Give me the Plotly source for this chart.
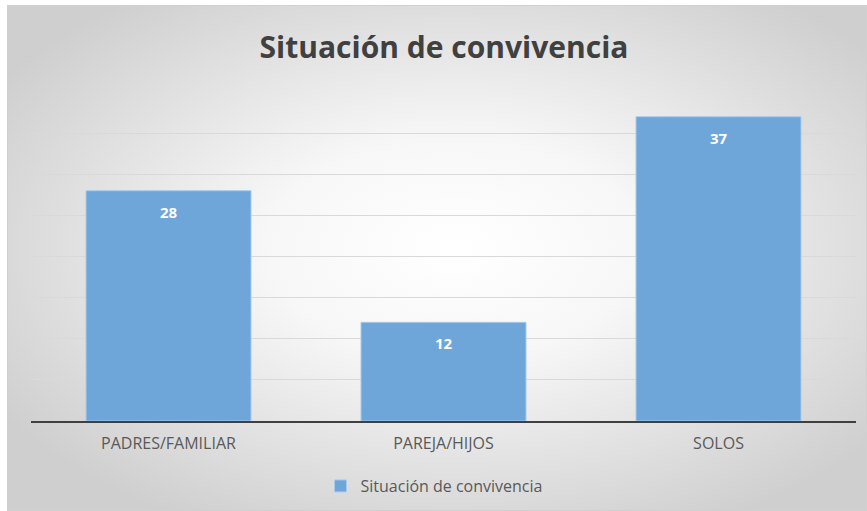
import base64
import plotly.graph_objects as go

categories = ["PADRES/FAMILIAR", "PAREJA/HIJOS", "SOLOS"]
values = [28, 12, 37]
series_name = "Situación de convivencia"
title_text = "Situación de convivencia"

W, H = 867, 511
L, R, T, B = 31, 11, 92, 90
pw, ph = W - L - R, H - T - B

svg = (
    "<svg xmlns='http://www.w3.org/2000/svg' width='860' height='506' viewBox='0 0 860 506' preserveAspectRatio='none'>"
    "<defs><radialGradient id='g' cx='52%' cy='48%' r='62%'>"
    "<stop offset='0' stop-color='#ffffff'/><stop offset='0.35' stop-color='#f7f7f7'/>"
    "<stop offset='1' stop-color='#cfcfcf'/></radialGradient></defs>"
    "<rect x='0' y='0' width='860' height='506' fill='url(#g)'/>"
    "<rect x='0.5' y='0.5' width='859' height='505' fill='none' stroke='#d0d0d0'/>"
    "</svg>"
)
src = "data:image/svg+xml;base64," + base64.b64encode(svg.encode()).decode()

fig = go.Figure()
fig.add_trace(go.Bar(
    x=categories, y=values, name=series_name,
    marker=dict(color="#6FA6DA", line=dict(color="#A9CBEA", width=1)),
    showlegend=True,
))

for c, v in zip(categories, values):
    fig.add_annotation(x=c, y=v, text=f"<b>{v}</b>", showarrow=False,
                       yshift=-21, font=dict(color="white", size=15, family="Open Sans"))

fig.add_layout_image(dict(
    source=src, xref="paper", yref="paper",
    x=(7 - L) / pw, y=(H - B - 5) / ph,
    sizex=860 / pw, sizey=506 / ph,
    xanchor="left", yanchor="top", sizing="stretch", layer="below",
))

fig.update_layout(
    width=W, height=H,
    margin=dict(l=L, r=R, t=T, b=B, autoexpand=False),
    paper_bgcolor="white", plot_bgcolor="rgba(0,0,0,0)",
    title=dict(text="<b>" + title_text + "</b>", x=(444 - L) / pw, xref="paper", xanchor="center",
               y=1 - 47 / H, yanchor="middle",
               font=dict(size=30, color="#404040", family="Open Sans")),
    bargap=0.4,
    font=dict(family="Open Sans", color="#595959", size=15),
    xaxis=dict(showline=True, linecolor="#404040", linewidth=2, ticks="",
               tickfont=dict(size=16, color="#595959"), showgrid=False,
               ticklabelstandoff=7, automargin=False),
    yaxis=dict(range=[0, 40], dtick=5, showticklabels=False, showgrid=True,
               gridcolor="#d9d9d9", gridwidth=1, zeroline=False, showline=False,
               automargin=False),
    legend=dict(orientation="h", x=(434 - L) / pw, xanchor="center",
                y=(H - B - 486) / ph, yanchor="middle", itemwidth=30,
                font=dict(size=16, color="#595959"), bgcolor="rgba(0,0,0,0)"),
)

fig.write_html("out.html", config={"displayModeBar": False},
               post_script="document.body.style.margin='0';")
